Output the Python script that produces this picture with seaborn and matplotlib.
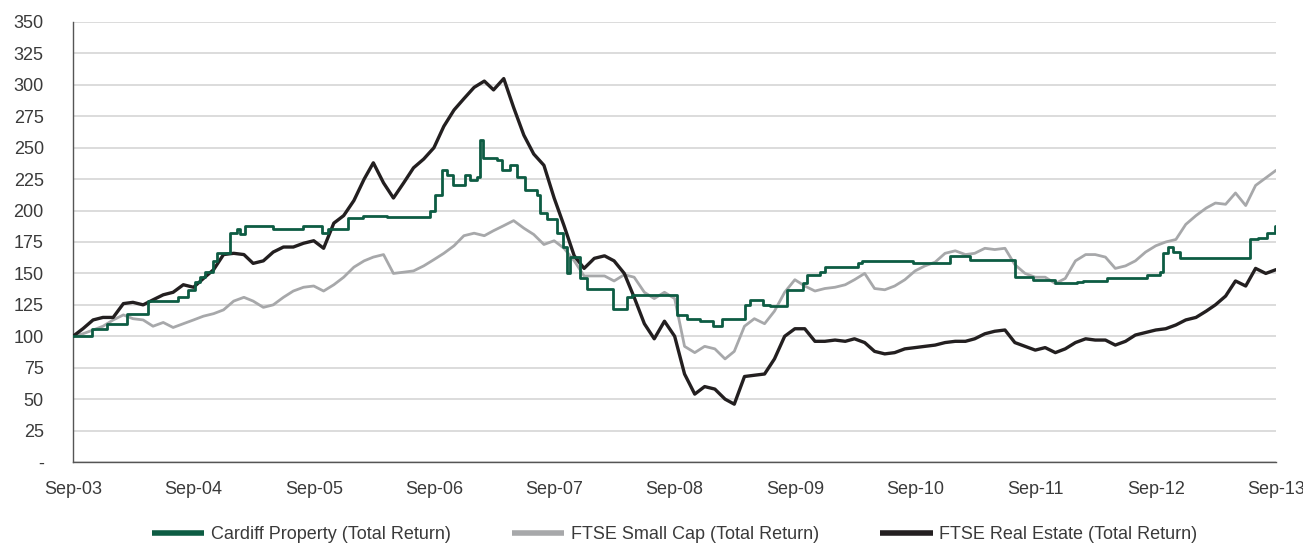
import matplotlib
matplotlib.use("Agg")
import matplotlib.pyplot as plt
import seaborn as sns
import pandas as pd

# ---------------- data ----------------
month_start = "2003-09-01"
n_months = 121

real_estate = [100, 106, 113, 115, 115, 126, 127, 125, 129, 133,
               135, 141, 139, 146, 153, 165, 166, 165, 158, 160,
               167, 171, 171, 174, 176, 170, 190, 196, 208, 225,
               238, 222, 210, 222, 234, 241, 250, 267, 280, 289,
               298, 303, 296, 305, 282, 260, 245, 236, 210, 188,
               164, 154, 162, 164, 160, 150, 131, 110, 98, 112,
               100, 70, 54, 60, 58, 50, 46, 68, 69, 70,
               82, 100, 106, 106, 96, 96, 97, 96, 98, 95,
               88, 86, 87, 90, 91, 92, 93, 95, 96, 96,
               98, 102, 104, 105, 95, 92, 89, 91, 87, 90,
               95, 98, 97, 97, 93, 96, 101, 103, 105, 106,
               109, 113, 115, 120, 125, 132, 144, 140, 154, 150,
               153]

small_cap = [100, 102, 105, 108, 113, 117, 114, 113, 108, 111,
             107, 110, 113, 116, 118, 121, 128, 131, 128, 123,
             125, 131, 136, 139, 140, 136, 141, 147, 155, 160,
             163, 165, 150, 151, 152, 156, 161, 166, 172, 180,
             182, 180, 184, 188, 192, 186, 181, 173, 176, 170,
             160, 148, 148, 148, 144, 149, 147, 135, 130, 135,
             130, 92, 87, 92, 90, 82, 88, 108, 114, 110,
             120, 135, 145, 140, 136, 138, 139, 141, 145, 150,
             138, 137, 140, 145, 152, 156, 159, 166, 168, 165,
             166, 170, 169, 170, 157, 150, 147, 147, 142, 146,
             160, 165, 165, 163, 154, 156, 160, 167, 172, 175,
             177, 189, 196, 202, 206, 205, 214, 204, 220, 226,
             232]

cardiff_dates = ["2003-09-01", "2003-10-28", "2003-12-13", "2004-02-12", "2004-04-16",
                 "2004-07-16", "2004-08-15", "2004-09-05", "2004-09-21", "2004-10-06",
                 "2004-10-30", "2004-11-11", "2004-12-21", "2005-01-11", "2005-01-20",
                 "2005-02-04", "2005-04-30", "2005-07-30", "2005-09-26", "2005-10-14",
                 "2005-12-14", "2006-01-28", "2006-04-11", "2006-08-20", "2006-09-04",
                 "2006-09-25", "2006-10-10", "2006-10-29", "2006-12-04", "2006-12-19",
                 "2007-01-10", "2007-01-19", "2007-01-28", "2007-03-11", "2007-03-26",
                 "2007-04-20", "2007-05-11", "2007-06-04", "2007-07-11", "2007-07-20",
                 "2007-08-10", "2007-09-09", "2007-09-28", "2007-10-10", "2007-10-19",
                 "2007-11-18", "2007-12-10", "2008-02-26", "2008-04-09", "2008-04-24",
                 "2008-09-08", "2008-10-08", "2008-11-17", "2008-12-26", "2009-01-22",
                 "2009-04-02", "2009-04-17", "2009-05-27", "2009-06-17", "2009-08-08",
                 "2009-09-25", "2009-10-07", "2009-11-16", "2009-12-01", "2010-03-11",
                 "2010-03-23", "2010-08-25", "2010-12-16", "2011-02-14", "2011-07-01",
                 "2011-08-25", "2011-10-30", "2012-01-05", "2012-01-23", "2012-04-05",
                 "2012-08-05", "2012-09-13", "2012-09-22", "2012-10-07", "2012-10-23",
                 "2012-11-13", "2013-06-13", "2013-07-08", "2013-08-04", "2013-08-28",
                 "2013-09-01"]
cardiff_values = [100, 106, 110, 118, 128,
                  131, 137, 143, 147, 151,
                  160, 166, 182, 185, 181,
                  188, 185, 188, 182, 185,
                  194, 196, 195, 200, 212,
                  232, 228, 220, 228, 224,
                  227, 256, 242, 240, 232,
                  236, 227, 216, 212, 198,
                  193, 182, 171, 150, 163,
                  146, 138, 122, 131, 133,
                  117, 114, 112, 108, 114,
                  125, 129, 125, 124, 137,
                  142, 149, 151, 155, 158,
                  160, 158, 164, 161, 147,
                  145, 142, 143, 144, 146,
                  149, 151, 166, 171, 167,
                  162, 177, 178, 182, 188,
                  188]

series_names = ["Cardiff Property (Total Return)",
                "FTSE Small Cap (Total Return)",
                "FTSE Real Estate (Total Return)"]
x_tick_years = list(range(2003, 2014))
x_tick_labels = ["Sep-03", "Sep-04", "Sep-05", "Sep-06", "Sep-07", "Sep-08",
                 "Sep-09", "Sep-10", "Sep-11", "Sep-12", "Sep-13"]
y_ticks = [0, 25, 50, 75, 100, 125, 150, 175, 200, 225, 250, 275, 300, 325, 350]
y_tick_labels = ["-", "25", "50", "75", "100", "125", "150", "175", "200",
                 "225", "250", "275", "300", "325", "350"]

# ---------------- build tables ----------------
months = pd.date_range(month_start, periods=n_months, freq="MS")
df_re = pd.DataFrame({"date": months, "value": real_estate})
df_sc = pd.DataFrame({"date": months, "value": small_cap})
df_cp = pd.DataFrame({"date": pd.to_datetime(cardiff_dates), "value": cardiff_values})

# ---------------- style ----------------
sns.set_style("white")
plt.rcParams["font.family"] = ["Liberation Sans", "DejaVu Sans"]

GREEN = "#0d5c43"
GREY = "#a7a8aa"
BLACK = "#231f20"
TEXT = "#3a3a3a"

fig = plt.figure(figsize=(13.03, 5.47), dpi=100)
ax = fig.add_axes([73 / 1303, 1 - 462 / 547, (1276 - 73) / 1303, (462 - 22) / 547])

sns.lineplot(data=df_sc, x="date", y="value", ax=ax, color=GREY, lw=2.0,
             label=series_names[1], zorder=3)
sns.lineplot(data=df_re, x="date", y="value", ax=ax, color=BLACK, lw=2.4,
             label=series_names[2], zorder=4)
sns.lineplot(data=df_cp, x="date", y="value", ax=ax, color=GREEN, lw=2.0,
             drawstyle="steps-post", label=series_names[0], zorder=5)

ax.set_xlim(pd.Timestamp("2003-09-01"), pd.Timestamp("2013-09-01"))
ax.set_ylim(0, 350)
ax.set_xlabel("")
ax.set_ylabel("")

ax.set_xticks([pd.Timestamp(f"{y}-09-01") for y in x_tick_years])
ax.set_xticklabels(x_tick_labels)
ax.set_yticks(y_ticks)
ax.set_yticklabels(y_tick_labels)

ax.yaxis.grid(True, color="#d9d9d9", lw=1.3, zorder=0)
ax.xaxis.grid(False)
ax.set_axisbelow(True)

for s in ["top", "right"]:
    ax.spines[s].set_visible(False)
for s in ["left", "bottom"]:
    ax.spines[s].set_color("#555555")
    ax.spines[s].set_linewidth(1.0)

ax.tick_params(axis="both", which="major", direction="out", length=5,
               width=1.0, color="#555555", labelcolor=TEXT, labelsize=13)
ax.tick_params(axis="y", pad=16)
ax.tick_params(axis="x", pad=9)

handles, labels = ax.get_legend_handles_labels()
order = [labels.index(n) for n in series_names]
ax.get_legend().remove()
leg = ax.legend([handles[i] for i in order], [labels[i] for i in order],
                loc="center", bbox_to_anchor=(0.5, -0.165), ncol=3,
                frameon=False, fontsize=13, handlelength=2.9,
                handletextpad=0.35, columnspacing=3.4)
for t in leg.get_texts():
    t.set_color(TEXT)
for h in leg.get_lines():
    h.set_linewidth(4)
    h.set_solid_capstyle("butt")

fig.savefig("out.png", dpi=100)
